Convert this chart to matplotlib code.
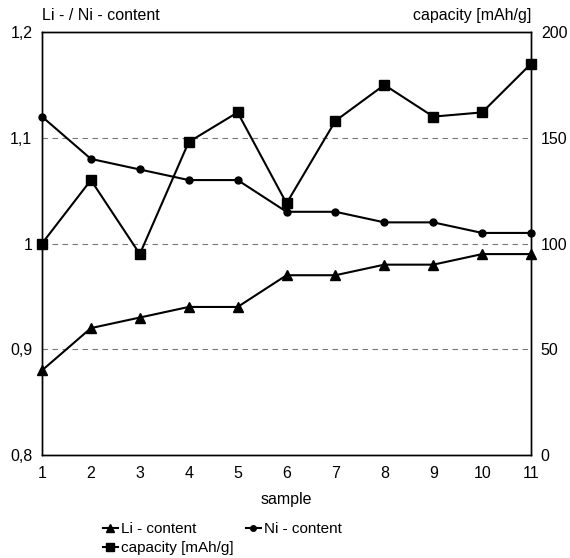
import matplotlib.pyplot as plt
from matplotlib.ticker import FixedLocator, FixedFormatter

plt.rcParams['font.family'] = ['Liberation Sans', 'DejaVu Sans']
plt.rcParams['font.size'] = 10

# Daten
sample = [1, 2, 3, 4, 5, 6, 7, 8, 9, 10, 11]
li_content = [0.88, 0.92, 0.93, 0.94, 0.94, 0.97, 0.97, 0.98, 0.98, 0.99, 0.99]
ni_content = [1.12, 1.08, 1.07, 1.06, 1.06, 1.03, 1.03, 1.02, 1.02, 1.01, 1.01]
capacity = [100, 130, 95, 148, 162, 119, 158, 175, 160, 162, 185]

left_ticks = [0.8, 0.9, 1.0, 1.1, 1.2]
left_labels = ['0,8', '0,9', '1', '1,1', '1,2']
right_ticks = [0, 50, 100, 150, 200]

fig = plt.figure(figsize=(5.7, 5.58), dpi=100)
ax = fig.add_axes([0.0737, 0.1846, 0.858, 0.758])
ax2 = ax.twinx()

for y in [0.9, 1.0, 1.1]:
    ax.axhline(y, color='#777777', lw=0.8, ls=(0, (5, 4)), zorder=0)

l1, = ax.plot(sample, li_content, color='black', lw=1.5, marker='^', ms=7,
              label='Li - content', clip_on=False, zorder=3)
l2, = ax.plot(sample, ni_content, color='black', lw=1.5, marker='o', ms=5,
              label='Ni - content', clip_on=False, zorder=3)
l3, = ax2.plot(sample, capacity, color='black', lw=1.5, marker='s', ms=7,
               label='capacity [mAh/g]', clip_on=False, zorder=3)

ax.set_xlim(1, 11)
ax.set_ylim(0.8, 1.2)
ax2.set_ylim(0, 200)
ax.set_xticks(sample)
ax.yaxis.set_major_locator(FixedLocator(left_ticks))
ax.yaxis.set_major_formatter(FixedFormatter(left_labels))
ax2.set_yticks(right_ticks)
for a in (ax, ax2):
    a.tick_params(length=0, labelsize=11.5, pad=7)
    for s in a.spines.values():
        s.set_linewidth(1.0)
ax.tick_params(axis='x', pad=8)

ax.set_xlabel('sample', fontsize=11.5, labelpad=8)
fig.text(0.0737, 0.958, 'Li - / Ni - content', fontsize=11.5, ha='left', va='bottom')
fig.text(0.9316, 0.958, 'capacity [mAh/g]', fontsize=11.5, ha='right', va='bottom')

fig.legend([l1, l3, l2], ['Li - content', 'capacity [mAh/g]', 'Ni - content'],
           ncol=2, loc='upper left', bbox_to_anchor=(0.18, 0.064),
           frameon=False, handlelength=1.0, handletextpad=0.2,
           columnspacing=0.8, labelspacing=0.3, fontsize=11,
           markerscale=0.8, borderpad=0, borderaxespad=0)

fig.savefig('out.png', dpi=100)
